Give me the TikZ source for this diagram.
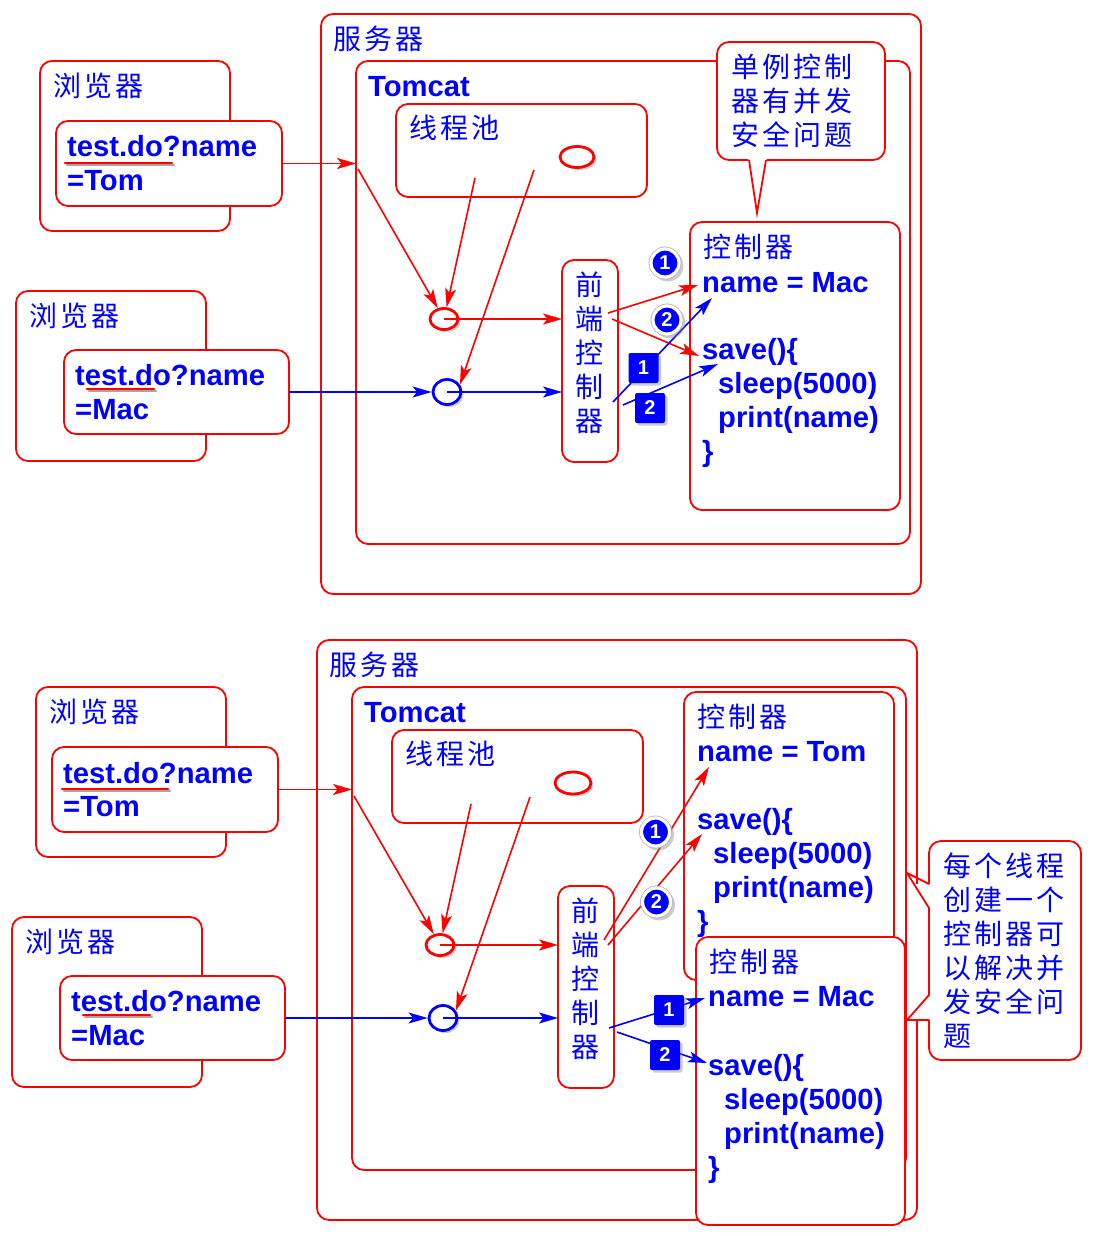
\documentclass[tikz,border=0pt]{standalone}
\usepackage{fontspec}
\newfontfamily\cnfam[LetterSpace=11]{Noto Sans CJK SC}
\newfontfamily\latfam{Liberation Sans}
\usetikzlibrary{arrows.meta}
\usetikzlibrary{shapes.geometric}
\usetikzlibrary{shadows}

\begin{document}
\begin{tikzpicture}[x=1pt, y=-1pt, >={Stealth[length=19pt,width=11pt,inset=4.5pt]},
  box/.style={draw=red, line width=1.8pt, rounded corners=12pt, fill=white, anchor=north west, inner sep=0pt, outer sep=0pt},
  cn/.style={text=blue, font=\cnfam\fontsize{28}{34}\selectfont, anchor=base west, inner sep=0pt},
  code/.style={text=blue, font=\latfam\bfseries\fontsize{29.2}{34}\selectfont, anchor=base west, inner sep=0pt},
  thread/.style={ellipse, draw=#1, line width=2.8pt, fill=white, inner sep=0pt, drop shadow={shadow xshift=2.5pt, shadow yshift=-2.5pt, opacity=0.4}},
  rbadge/.style={circle, drop shadow={shadow xshift=2.5pt, shadow yshift=-2.5pt, shadow scale=1.12, opacity=0.4}, preaction={draw=gray!60, line width=4.8pt}, fill=blue, draw=white, line width=3.2pt, minimum size=28pt, inner sep=0pt, text=white, font=\latfam\bfseries\fontsize{20}{20}\selectfont},
  sbadge/.style={rectangle, drop shadow={shadow xshift=2.5pt, shadow yshift=-2.5pt, opacity=0.4}, fill=blue, rounded corners=2pt, minimum size=30pt, inner sep=0pt, text=white, font=\latfam\bfseries\fontsize{20}{20}\selectfont},
  redline/.style={->, red, line width=1.6pt},
  blueline/.style={->, blue, line width=1.6pt},
  uline/.style={red, line width=2.6pt, line cap=round},
  ushade/.style={black!35, line width=2.6pt, line cap=round}]

\def\lw{1.8pt}

\useasboundingbox (0,0) rectangle (1093,1236);

%% upper picture
\node[box, minimum width=600pt, minimum height=580pt] (upsrv) at (321,14) {};
\node[box, minimum width=554pt, minimum height=483pt] (uptom) at (356,61) {};
\node[box, minimum width=251pt, minimum height=93pt] (uppool) at (396,104) {};
\node[thread=red, minimum width=34pt, minimum height=21pt] (upidle) at (577,157) {};

\node[box, minimum width=168pt, minimum height=118pt] (uptip) at (717,42) {};
\fill[white] (748,157) -- (757,213) -- (767,157) -- cycle;
\draw[red, line width=\lw] (749,160) -- (757,213) -- (766,160);

\node[box, minimum width=190pt, minimum height=170pt] (upbrw1) at (40,61) {};
\node[box, minimum width=226pt, minimum height=85pt] (upreq1) at (56,121) {};
\node[box, minimum width=190pt, minimum height=170pt] (upbrw2) at (16,291) {};
\node[box, minimum width=225pt, minimum height=84pt] (upreq2) at (64,350) {};

\node[box, minimum width=56pt, minimum height=202pt] (upfc) at (562,260) {};
\node[box, minimum width=210pt, minimum height=288pt] (upctl) at (690,222) {};

\node[thread=red, minimum width=28pt, minimum height=21pt] (upthr) at (444,319) {};
\node[thread=blue, minimum width=28pt, minimum height=25pt] (upthb) at (447,392) {};

\draw[ushade] (67,165) -- (174,165);
\draw[uline] (65,163) -- (172,163);
\draw[ushade] (89,391) -- (156,391);
\draw[uline] (87,389) -- (154,389);

\node[cn] (upsrvt) at (333,49.5) {服务器};
\node[code] (uptomt) at (368,96.5) {Tomcat};
\node[cn] (uppoolt) at (409,138.5) {线程池};
\node[cn] (uptipa) at (731,77.5) {单例控制};
\node[cn] (uptipb) at (731,111.5) {器有并发};
\node[cn] (uptipc) at (731,145.5) {安全问题};
\node[cn] (upbrwt1) at (53,96.5) {浏览器};
\node[code] (upreqa1) at (67,157) {test.do?name};
\node[code] (upreqb1) at (67,190) {=Tom};
\node[cn] (upbrwt2) at (29,326.5) {浏览器};
\node[code] (upreqa2) at (75,385) {test.do?name};
\node[code] (upreqb2) at (75,419) {=Mac};
\node[cn, anchor=center, align=center] (upfct) at (589.5,353) {前\\端\\控\\制\\器};
\node[cn] (upctlt) at (703,257.5) {控制器};
\node[code] (upctln) at (702,292) {name = Mac};
\node[code] (upctls) at (702,359) {save()\{};
\node[code] (upctlp) at (718,393) {sleep(5000)};
\node[code] (upctlq) at (718,427) {print(name)};
\node[code] (upctle) at (702,461) {\}};

\coordinate (upin) at (358,169);
\coordinate (uppa) at (475,178);
\coordinate (uppb) at (534,170);
\coordinate (upfo1) at (608,313);
\coordinate (upfo2) at (612,319);
\coordinate (upfo3) at (613,402);
\coordinate (upfo4) at (623,405);
\coordinate (upta1) at (698,285);
\coordinate (upta2) at (699,356);
\coordinate (upta3) at (712,298);
\coordinate (upta4) at (718,364);

\draw[redline] (upreq1.east) -- (upreq1.east -| uptom.west);
\draw[redline] (upin) -- (upthr);
\draw[redline] (uppa) -- (upthr);
\draw[redline] (uppb) -- (upthb.30);
\draw[redline] (upthr.center) -- (upthr -| upfc.west);
\draw[blueline] (upreq2.east) -- (upthb);
\draw[blueline] (upthb.center) -- (upthb -| upfc.west);
\draw[redline] (upfo1) -- (upta1);
\draw[redline] (upfo2) -- (upta2);
\draw[blueline] (upfo3) -- (upta3);
\draw[blueline] (upfo4) -- (upta4);

\node[rbadge] (upra) at (665,263) {1};
\node[rbadge] (uprb) at (667,320) {2};
\node[sbadge] (upsa) at (643.5,368) {1};
\node[sbadge] (upsb) at (650,408) {2};

%% lower picture
\node[box, minimum width=600pt, minimum height=580pt] (dnsrv) at (317,640) {};
\node[box, minimum width=554pt, minimum height=483pt] (dntom) at (352,687) {};
\node[box, minimum width=251pt, minimum height=93pt] (dnpool) at (392,730) {};
\node[thread=red, minimum width=36pt, minimum height=22pt] (dnidle) at (573,783) {};

\node[box, minimum width=190pt, minimum height=170pt] (dnbrw1) at (36,687) {};
\node[box, minimum width=226pt, minimum height=85pt] (dnreq1) at (52,747) {};
\node[box, minimum width=190pt, minimum height=170pt] (dnbrw2) at (12,917) {};
\node[box, minimum width=225pt, minimum height=84pt] (dnreq2) at (60,976) {};

\node[box, minimum width=56pt, minimum height=202pt] (dnfc) at (558,886) {};
\node[box, minimum width=210pt, minimum height=288pt] (dnctlt) at (684,692) {};
\node[box, minimum width=209pt, minimum height=288pt] (dnctlm) at (696,937) {};

\node[thread=red, minimum width=28pt, minimum height=21pt] (dnthr) at (440,945) {};
\node[thread=blue, minimum width=28pt, minimum height=25pt] (dnthb) at (443,1018) {};

\draw[ushade] (64,791) -- (170,791);
\draw[uline] (62,789) -- (168,789);
\draw[ushade] (85,1017) -- (152,1017);
\draw[uline] (83,1015) -- (150,1015);

\node[cn] (dnsrvt) at (329,675.5) {服务器};
\node[code] (dntomt) at (364,722.5) {Tomcat};
\node[cn] (dnpoolt) at (405,764.5) {线程池};
\node[cn] (dnbrwt1) at (49,722.5) {浏览器};
\node[code] (dnreqa1) at (63,783) {test.do?name};
\node[code] (dnreqb1) at (63,816) {=Tom};
\node[cn] (dnbrwt2) at (25,952.5) {浏览器};
\node[code] (dnreqa2) at (71,1011) {test.do?name};
\node[code] (dnreqb2) at (71,1045) {=Mac};
\node[cn, anchor=center, align=center] (dnfct) at (585.5,979) {前\\端\\控\\制\\器};
\node[cn] (dntomc) at (697,727.5) {控制器};
\node[code] (dntomn) at (697,761) {name = Tom};
\node[code] (dntoms) at (697,829) {save()\{};
\node[code] (dntomp) at (713,863) {sleep(5000)};
\node[code] (dntomq) at (713,897) {print(name)};
\node[code] (dntome) at (697,931) {\}};
\node[cn] (dnmacc) at (709,972.5) {控制器};
\node[code] (dnmacn) at (708,1006) {name = Mac};
\node[code] (dnmacs) at (708,1075) {save()\{};
\node[code] (dnmacp) at (724,1109) {sleep(5000)};
\node[code] (dnmacq) at (724,1143) {print(name)};
\node[code] (dnmace) at (708,1177) {\}};

\coordinate (dnin) at (354,796);
\coordinate (dnpa) at (471,804);
\coordinate (dnpb) at (530,797);
\coordinate (dnfo1) at (604,940);
\coordinate (dnfo2) at (608,945);
\coordinate (dnfo3) at (609,1028);
\coordinate (dnfo4) at (617,1032);
\coordinate (dnta1) at (709,767);
\coordinate (dnta2) at (702,834);
\coordinate (dnta3) at (705,998);
\coordinate (dnta4) at (707,1063);

\draw[redline] (dnreq1.east) -- (dnreq1.east -| dntom.west);
\draw[redline] (dnin) -- (dnthr);
\draw[redline] (dnpa) -- (dnthr);
\draw[redline] (dnpb) -- (dnthb.30);
\draw[redline] (dnthr.center) -- (dnthr -| dnfc.west);
\draw[blueline] (dnreq2.east) -- (dnthb);
\draw[blueline] (dnthb.center) -- (dnthb -| dnfc.west);
\draw[redline] (dnfo1) -- (dnta1);
\draw[redline] (dnfo2) -- (dnta2);
\draw[blueline] (dnfo3) -- (dnta3);
\draw[blueline] (dnfo4) -- (dnta4);

\node[rbadge] (dnra) at (655.5,832) {1};
\node[rbadge] (dnrb) at (656.5,902) {2};
\node[sbadge] (dnsa) at (669,1010) {1};
\node[sbadge] (dnsb) at (665,1055) {2};

\node[box, minimum width=152pt, minimum height=219pt] (dntip) at (929,841) {};
\fill[white] (907.5,884) rectangle (931,1020);
\draw[red, line width=\lw] (929,884) -- (907,873) -- (929,908) -- (929,995) -- (907,1020) -- (929,1020);
\node[cn] (dntipa) at (943,876.5) {每个线程};
\node[cn] (dntipb) at (943,910.5) {创建一个};
\node[cn] (dntipc) at (943,944.5) {控制器可};
\node[cn] (dntipd) at (943,978.5) {以解决并};
\node[cn] (dntipe) at (943,1012.5) {发安全问};
\node[cn] (dntipf) at (943,1046.5) {题};

\end{tikzpicture}
\end{document}
